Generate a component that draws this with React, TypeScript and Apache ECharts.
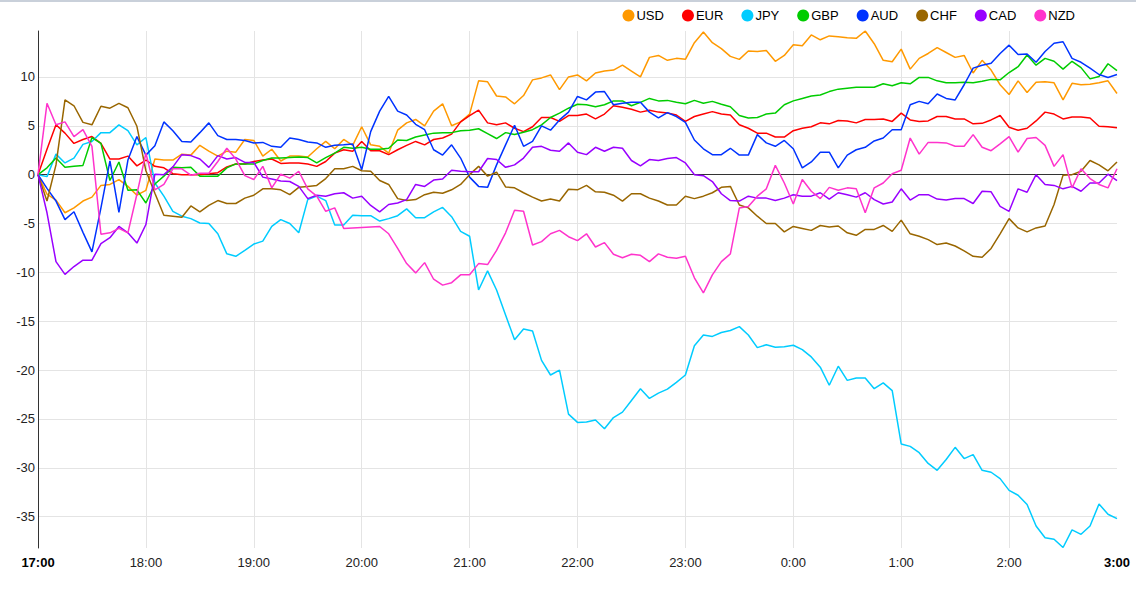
import React, { useEffect, useRef } from "react";
import * as echarts from "echarts";

// ---- data (5-minute steps from 17:00 to 3:00) ----
const startHour = 17;
const stepCount = 121;
const times: string[] = [];
for (let k = 0; k < stepCount; k++) {
  const total = startHour * 60 + k * 5;
  const h = Math.floor(total / 60) % 24;
  const m = total % 60;
  times.push(`${h}:${m < 10 ? "0" + m : m}`);
}

const currencies = ["USD", "EUR", "JPY", "GBP", "AUD", "CHF", "CAD", "NZD"];
const colors = ["#FF9900", "#FF0000", "#00CCFF", "#00CC00", "#0033FF", "#996600", "#9900FF", "#FF33CC"];

const USD = [
  0, -2.0, -2.6, -3.9, -3.4, -2.7, -2.3, -1.1, -1.0, -0.5, -1.2, -2.1, -1.6, 1.6, 1.5, 1.5, 2.1, 2.0, 3.0, 2.4, 1.9, 2.4, 2.3, 3.6, 3.5, 1.9, 2.6, 1.4, 1.9, 1.9, 1.8,
  2.65, 3.4, 2.65, 3.6, 3.0, 4.9, 3.05, 2.9, 2.2, 4.55, 5.3, 5.65, 5.0, 6.5, 7.25, 5.0, 5.4, 6.2, 9.6, 9.5, 8.05, 7.95, 7.25, 8.1, 9.7, 9.9, 10.2, 8.7, 10.0, 10.2,
  9.6, 10.4, 10.6, 10.7, 11.2, 10.6, 10.0, 12.0, 12.2, 11.7, 11.9, 11.8, 13.5, 14.6, 13.5, 12.9, 12.1, 11.8, 12.65, 12.6, 12.7, 11.6, 12.2, 13.3, 13.2, 14.3, 13.8, 14.2, 14.1, 14.0,
  13.95, 14.7, 13.4, 11.7, 11.55, 12.85, 10.8, 11.9, 12.4, 13.0, 12.5, 12.0, 12.2, 10.4, 11.7, 10.7, 9.2, 8.2, 9.6, 8.4, 9.45, 9.5, 9.4, 7.65, 9.35, 9.2, 9.25, 9.4, 9.6, 8.3,
];
const EUR = [
  0, 2.6, 5.1, 4.25, 3.2, 3.6, 3.9, 3.2, 1.6, 1.6, 1.9, 0.9, 1.5, 0.85, 0.7, 0.1, 0, 0, 0, 0.1, 0.2, 0.8, 1.1, 1.1, 1.35, 1.5, 1.6, 1.15, 1.2, 1.2, 1.1,
  0.85, 1.35, 2.2, 2.55, 2.4, 3.4, 2.45, 2.45, 2.05, 2.55, 3.0, 3.4, 3.05, 3.6, 3.75, 4.15, 5.4, 6.05, 6.6, 5.3, 5.1, 5.3, 4.75, 4.4, 4.9, 5.85, 5.85, 5.45, 6.05, 6.05,
  6.2, 5.7, 6.2, 7.05, 6.9, 6.7, 6.4, 6.6, 6.4, 6.3, 6.1, 5.45, 5.95, 6.2, 6.45, 6.2, 6.1, 5.1, 4.75, 4.25, 4.25, 3.85, 3.85, 4.5, 4.75, 4.9, 5.3, 5.2, 5.55, 5.5,
  5.3, 5.65, 5.65, 5.7, 5.45, 6.3, 5.6, 5.45, 5.5, 5.95, 5.95, 5.7, 5.7, 5.2, 5.25, 5.6, 6.05, 4.85, 4.55, 4.75, 5.5, 6.4, 6.2, 5.7, 5.9, 5.9, 5.8, 4.95, 4.9, 4.8,
];
const JPY = [
  0, -0.2, 2.1, 1.2, 1.7, 3.1, 3.4, 4.3, 4.3, 5.1, 4.5, 3.05, 3.8, -0.85, -2.2, -3.75, -4.25, -4.5, -4.95, -5.0, -6.05, -8.1, -8.35, -7.75, -7.1, -6.8, -5.3, -4.6, -5.0, -5.95, -2.55,
  -2.2, -2.65, -5.15, -5.15, -4.15, -4.2, -4.2, -4.75, -4.5, -4.2, -3.5, -4.4, -4.4, -3.8, -3.35, -4.3, -5.8, -6.3, -11.8, -9.85, -11.8, -14.35, -16.9, -15.8, -16.0, -19.0, -20.5, -20.0, -24.5, -25.35,
  -25.3, -25.1, -26.0, -24.85, -24.3, -23.1, -21.9, -22.9, -22.35, -21.95, -21.25, -20.5, -17.5, -16.4, -16.55, -16.15, -15.95, -15.55, -16.4, -17.7, -17.4, -17.65, -17.6, -17.45, -17.9, -18.65, -19.7, -21.55, -19.6, -21.05,
  -20.8, -20.8, -21.9, -21.3, -22.1, -27.55, -27.8, -28.45, -29.55, -30.25, -29.15, -27.9, -29.05, -28.65, -30.25, -30.45, -31.1, -32.3, -32.8, -33.75, -35.95, -37.15, -37.3, -38.15, -36.35, -36.8, -35.95, -33.7, -34.75, -35.2,
];
const GBP = [
  0, 0.7, 1.7, 0.75, 0.85, 0.95, 3.8, 3.2, -0.6, 1.3, -1.6, -1.55, -2.9, -0.95, -0.15, 0.75, 0.7, 0.75, -0.15, -0.15, -0.15, 0.7, 1.1, 1.1, 1.1, 1.45, 1.7, 1.7, 1.75, 1.8, 1.75,
  1.2, 1.75, 2.2, 2.8, 2.7, 2.8, 2.6, 2.6, 2.7, 3.55, 3.5, 3.85, 4.05, 4.25, 4.3, 4.3, 4.5, 4.55, 4.7, 4.2, 3.7, 4.3, 4.1, 4.35, 4.6, 5.1, 5.85, 6.3, 6.8, 7.2,
  7.15, 6.95, 7.15, 7.55, 7.55, 7.05, 7.4, 7.8, 7.55, 7.6, 7.4, 7.25, 7.6, 7.3, 7.5, 7.2, 6.95, 6.05, 5.8, 5.85, 6.2, 6.3, 7.15, 7.55, 7.8, 8.05, 8.15, 8.5, 8.75, 8.85,
  8.95, 8.95, 8.95, 9.3, 9.1, 9.4, 9.3, 9.95, 9.95, 9.6, 9.4, 9.4, 9.45, 9.4, 9.55, 9.75, 9.7, 10.45, 11.05, 12.25, 11.2, 11.9, 11.6, 10.8, 11.6, 10.95, 9.8, 10.05, 11.35, 10.65,
];
const AUD = [
  0, -1.4, -2.7, -4.6, -3.8, -5.9, -7.9, -3.4, 1.4, -3.85, 1.5, 3.9, 2.0, 2.95, 5.4, 4.5, 3.4, 3.35, 4.3, 5.3, 4.0, 3.6, 3.6, 3.5, 3.25, 3.3, 2.9, 2.8, 3.75, 3.6, 3.35,
  3.25, 2.8, 3.0, 3.05, 3.15, 0.5, 4.4, 6.5, 8.0, 6.5, 6.1, 5.15, 4.6, 2.55, 2.0, 3.05, 1.7, -0.25, -1.2, -1.3, 1.0, 3.05, 5.05, 2.9, 3.4, 5.0, 4.55, 5.6, 6.4, 8.0,
  7.65, 8.45, 8.5, 7.15, 7.3, 7.4, 7.4, 6.4, 5.8, 6.35, 5.95, 5.35, 3.55, 2.65, 2.05, 2.05, 2.7, 2.0, 2.0, 4.1, 3.25, 2.9, 3.5, 2.65, 0.7, 1.3, 2.3, 2.3, 0.7, 2.0,
  2.55, 2.8, 3.45, 3.75, 4.6, 4.6, 7.15, 7.5, 7.25, 8.25, 7.8, 7.65, 9.2, 10.9, 11.2, 11.4, 12.4, 13.25, 12.3, 12.35, 11.5, 12.6, 13.45, 13.6, 11.9, 11.5, 10.9, 10.25, 9.95, 10.25,
];
const CHF = [
  0, -2.7, 1.0, 7.65, 7.05, 5.35, 5.1, 7.0, 6.8, 7.3, 6.85, 4.95, 0.4, -1.9, -4.15, -4.25, -4.35, -3.2, -3.8, -3.15, -2.65, -2.95, -2.95, -2.4, -2.1, -1.45, -1.45, -1.55, -2.05, -1.3, -1.2,
  -1.1, -0.4, 0.6, 0.6, 0.85, 0.4, 0.35, -0.6, -1.0, -2.45, -2.65, -2.55, -2.05, -1.8, -1.9, -1.55, -1.0, 0, 0.85, -0.15, 0.25, -1.25, -1.35, -1.85, -2.3, -2.7, -2.5, -2.7, -1.5, -1.55,
  -1.1, -1.75, -1.8, -2.1, -2.7, -1.95, -1.95, -2.4, -2.7, -3.1, -3.1, -2.2, -2.45, -2.2, -1.85, -1.3, -1.2, -3.1, -3.4, -4.25, -5.0, -5.0, -5.85, -5.3, -5.5, -5.7, -5.2, -5.35, -5.25, -5.95,
  -6.2, -5.6, -5.6, -5.2, -5.8, -4.65, -6.05, -6.3, -6.65, -7.15, -7.0, -7.3, -7.8, -8.35, -8.45, -7.55, -6.05, -4.5, -5.45, -5.85, -5.45, -5.25, -3.05, -0.05, 0, 0.35, 1.45, 1.0, 0.4, 1.3,
];
const CAD = [
  0, -3.9, -8.9, -10.2, -9.4, -8.75, -8.75, -7.05, -6.45, -5.3, -5.95, -7.0, -5.1, 0.05, 0, 0.8, 2.05, 1.95, 1.6, 0.75, 1.95, 1.6, 1.75, 1.25, 1.25, -0.25, -0.45, -0.65, -0.7, -1.2, -2.45,
  -2.1, -2.2, -1.95, -1.85, -2.4, -2.2, -3.15, -3.8, -3.05, -2.9, -2.55, -1.0, -1.2, -0.55, -0.45, 0.45, 0.35, 0.3, 0.3, 1.65, 1.55, 0.75, 1.0, 1.7, 2.8, 2.9, 2.5, 2.4, 3.25, 2.3,
  2.05, 2.8, 2.4, 2.8, 2.7, 1.45, 0.9, 1.55, 1.45, 1.65, 1.75, 1.2, 0, -0.1, -0.7, -1.95, -2.65, -2.7, -2.2, -2.4, -2.4, -2.65, -2.4, -2.05, -2.2, -2.2, -1.85, -2.5, -1.85, -2.05,
  -2.3, -1.85, -2.55, -3.0, -2.8, -1.45, -2.6, -2.05, -2.05, -2.5, -2.6, -2.45, -2.45, -2.95, -1.7, -1.75, -3.25, -3.75, -1.45, -1.8, 0, -1.0, -1.1, -1.45, -1.2, -1.7, -0.85, -0.85, 0.05, -0.6,
];
const NZD = [
  0, 7.3, 5.1, 5.4, 3.9, 4.6, 2.9, -6.1, -5.95, -5.5, -5.95, -2.0, 2.2, -1.55, -1.0, 0.6, 0.6, -0.05, 0.15, 0.15, 1.35, 2.7, 1.6, -0.1, -0.5, 0.85, -1.35, 0.05, -0.35, 0.35, -1.45,
  -2.2, -3.75, -3.4, -5.5, -5.45, -5.4, -5.35, -5.3, -6.05, -7.55, -9.1, -10.05, -9.0, -10.7, -11.3, -11.05, -10.25, -10.25, -9.1, -9.2, -7.75, -5.95, -3.65, -3.75, -7.2, -6.85, -6.05, -5.7, -6.35, -6.75,
  -6.05, -7.4, -6.95, -8.15, -8.5, -8.15, -8.25, -8.9, -8.1, -8.45, -8.55, -8.35, -10.55, -12.1, -10.25, -8.9, -8.1, -3.4, -3.25, -2.2, -1.45, 0.95, -0.85, -3.0, -0.5, -1.7, -2.45, -1.3, -1.6, -1.35,
  -1.45, -3.9, -1.35, -0.85, 0.1, 0.45, 3.75, 2.1, 3.3, 3.3, 3.25, 2.9, 2.9, 4.1, 2.8, 2.45, 3.15, 3.9, 2.3, 3.7, 3.8, 3.0, 0.85, 2.05, -1.35, 0.6, -0.4, -1.0, -1.35, 0.6,
];

const seriesValues = [USD, EUR, JPY, GBP, AUD, CHF, CAD, NZD];
const yMin = -38.2;
const yMax = 14.7;

const FONT = 'Arial, "Liberation Sans", Helvetica, sans-serif';

export default function App() {
  const ref = useRef<HTMLDivElement>(null);

  useEffect(() => {
    if (!ref.current) return;
    const chart = echarts.init(ref.current, null, { renderer: "svg" });
    const lastIdx = times.length - 1;

    const series: any[] = currencies.map((name, i) => ({
      name,
      type: "line",
      data: seriesValues[i],
      symbol: "none",
      showSymbol: false,
      lineStyle: { width: 1.5, color: colors[i] },
      itemStyle: { color: colors[i] },
      emphasis: { disabled: true },
      z: 3,
    }));
    series[0].markLine = {
      silent: true,
      symbol: "none",
      label: { show: false },
      lineStyle: { color: "#333", width: 1, type: "solid" },
      data: [{ yAxis: 0 }],
      z: 2,
    };

    chart.setOption({
      animation: false,
      textStyle: { fontFamily: FONT },
      grid: { left: 38, right: 19, top: 31, bottom: 48, containLabel: false },
      legend: {
        data: currencies,
        top: 4,
        right: 56,
        icon: "circle",
        itemWidth: 12,
        itemHeight: 12,
        itemGap: 18,
        textStyle: { fontSize: 13, color: "#000", fontFamily: FONT, padding: [0, 0, 0, -3] },
      },
      graphic: [
        {
          type: "rect",
          left: 0,
          top: 0,
          shape: { width: 1136, height: 2 },
          style: { fill: "#c9d0da" },
          silent: true,
        },
      ],
      xAxis: {
        type: "category",
        data: times,
        boundaryGap: false,
        axisLine: { show: false, onZero: false },
        axisTick: { show: false },
        axisLabel: {
          interval: 11,
          fontSize: 13,
          color: "#222",
          fontFamily: FONT,
          margin: 8,
          formatter: (val: string, idx: number) =>
            idx === 0 || idx === lastIdx ? `{b|${val}}` : val,
          rich: {
            b: { fontWeight: "bold", fontSize: 13, color: "#000", fontFamily: FONT },
          },
        },
        splitLine: {
          show: true,
          interval: 11,
          showMaxLine: false,
          lineStyle: { color: "#e4e4e4", width: 1 },
        },
      },
      yAxis: {
        type: "value",
        min: yMin,
        max: yMax,
        splitNumber: 10,
        axisLine: { show: true, lineStyle: { color: "#333", width: 1 } },
        axisTick: { show: false },
        axisLabel: {
          fontSize: 13,
          color: "#222",
          fontFamily: FONT,
          margin: 3,
          showMinLabel: false,
          showMaxLabel: false,
        },
        splitLine: {
          show: true,
          showMinLine: false,
          showMaxLine: false,
          lineStyle: { color: "#e4e4e4", width: 1 },
        },
      },
      series,
    });

    return () => {
      chart.dispose();
    };
  }, []);

  return (
    <div
      ref={ref}
      style={{ position: "fixed", left: 0, top: 0, width: 1136, height: 596, background: "#fff" }}
    />
  );
}
